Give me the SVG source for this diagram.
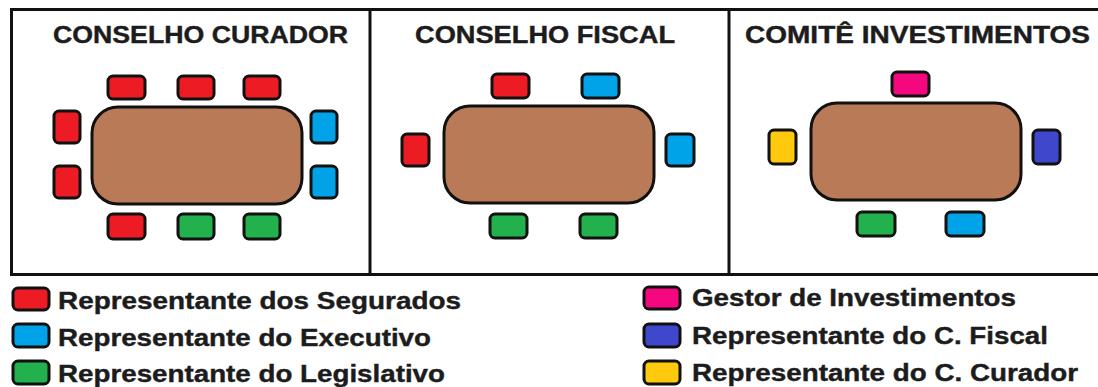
<svg xmlns="http://www.w3.org/2000/svg" width="1098" height="387" viewBox="0 0 1098 387">
<style>
.frame{fill:none;stroke:#111;stroke-width:3}
.title{font-family:"Liberation Sans",Arial,sans-serif;font-weight:bold;font-size:23px;fill:#1c1c1c;stroke:#1c1c1c;stroke-width:0.4}
.leg{font-family:"Liberation Sans",Arial,sans-serif;font-weight:bold;font-size:24px;fill:#1c1c1c;stroke:#1c1c1c;stroke-width:0.4}
.table{fill:#b97a57;stroke:#111;stroke-width:3}
.ch{stroke:#111;stroke-width:3}
.r{fill:#ed1c24}.b{fill:#00a2e8}.g{fill:#22b14c}.p{fill:#f5077f}.v{fill:#3f48cc}.y{fill:#ffc90e}
</style>
<rect width="1098" height="387" fill="#fff"/>
<g id="frame">
<path class="frame" d="M1098 9.5H11.5V274.5H1098"/>
<line class="frame" x1="370" y1="9" x2="370" y2="275"/>
<line class="frame" x1="729" y1="9" x2="729" y2="275"/>
</g>
<g id="conselho-curador">
<text class="title" x="53" y="43" textLength="295" lengthAdjust="spacingAndGlyphs">CONSELHO CURADOR</text>
<rect class="table" x="92" y="107" width="210" height="97" rx="26"/>
<rect class="ch r" x="108" y="76" width="37" height="23" rx="5"/>
<rect class="ch r" x="178" y="76" width="36" height="23" rx="5"/>
<rect class="ch r" x="244" y="76" width="36" height="23" rx="5"/>
<rect class="ch r" x="54" y="111" width="26" height="32" rx="5"/>
<rect class="ch r" x="54" y="166" width="26" height="32" rx="5"/>
<rect class="ch b" x="311" y="111" width="26" height="32" rx="5"/>
<rect class="ch b" x="311" y="166" width="26" height="32" rx="5"/>
<rect class="ch r" x="108" y="214" width="37" height="25" rx="5"/>
<rect class="ch g" x="178" y="214" width="36" height="25" rx="5"/>
<rect class="ch g" x="244" y="214" width="36" height="25" rx="5"/>
</g>
<g id="conselho-fiscal">
<text class="title" x="415" y="43" textLength="260" lengthAdjust="spacingAndGlyphs">CONSELHO FISCAL</text>
<rect class="table" x="444" y="106" width="210" height="97" rx="26"/>
<rect class="ch r" x="492" y="74" width="37" height="24" rx="5"/>
<rect class="ch b" x="582" y="74" width="37" height="24" rx="5"/>
<rect class="ch r" x="402" y="134" width="27" height="32" rx="5"/>
<rect class="ch b" x="666" y="134" width="28" height="32" rx="5"/>
<rect class="ch g" x="490" y="214" width="37" height="24" rx="5"/>
<rect class="ch g" x="580" y="214" width="37" height="24" rx="5"/>
</g>
<g id="comite-investimentos">
<text class="title" x="745" y="43" textLength="345" lengthAdjust="spacingAndGlyphs">COMITÊ INVESTIMENTOS</text>
<rect class="table" x="811" y="103" width="210" height="97" rx="26"/>
<rect class="ch p" x="892" y="72" width="37" height="24" rx="5"/>
<rect class="ch y" x="769" y="130" width="27" height="34" rx="5"/>
<rect class="ch v" x="1033" y="130" width="27" height="34" rx="5"/>
<rect class="ch g" x="857" y="212" width="38" height="24" rx="5"/>
<rect class="ch b" x="946" y="212" width="38" height="24" rx="5"/>
</g>
<g id="legend">
<rect class="ch r" x="13" y="288" width="36" height="22" rx="5"/>
<text class="leg" x="58" y="309" textLength="403" lengthAdjust="spacingAndGlyphs">Representante dos Segurados</text>
<rect class="ch b" x="13" y="324" width="36" height="23" rx="5"/>
<text class="leg" x="58" y="346" textLength="373" lengthAdjust="spacingAndGlyphs">Representante do Executivo</text>
<rect class="ch g" x="13" y="361" width="36" height="23" rx="5"/>
<text class="leg" x="58" y="382" textLength="387" lengthAdjust="spacingAndGlyphs">Representante do Legislativo</text>
<rect class="ch p" x="644" y="287" width="36" height="22" rx="5"/>
<text class="leg" x="692" y="306" textLength="324" lengthAdjust="spacingAndGlyphs">Gestor de Investimentos</text>
<rect class="ch v" x="644" y="324" width="36" height="23" rx="5"/>
<text class="leg" x="692" y="344" textLength="356" lengthAdjust="spacingAndGlyphs">Representante do C. Fiscal</text>
<rect class="ch y" x="644" y="361" width="36" height="23" rx="5"/>
<text class="leg" x="692" y="381" textLength="386" lengthAdjust="spacingAndGlyphs">Representante do C. Curador</text>
</g>
</svg>
